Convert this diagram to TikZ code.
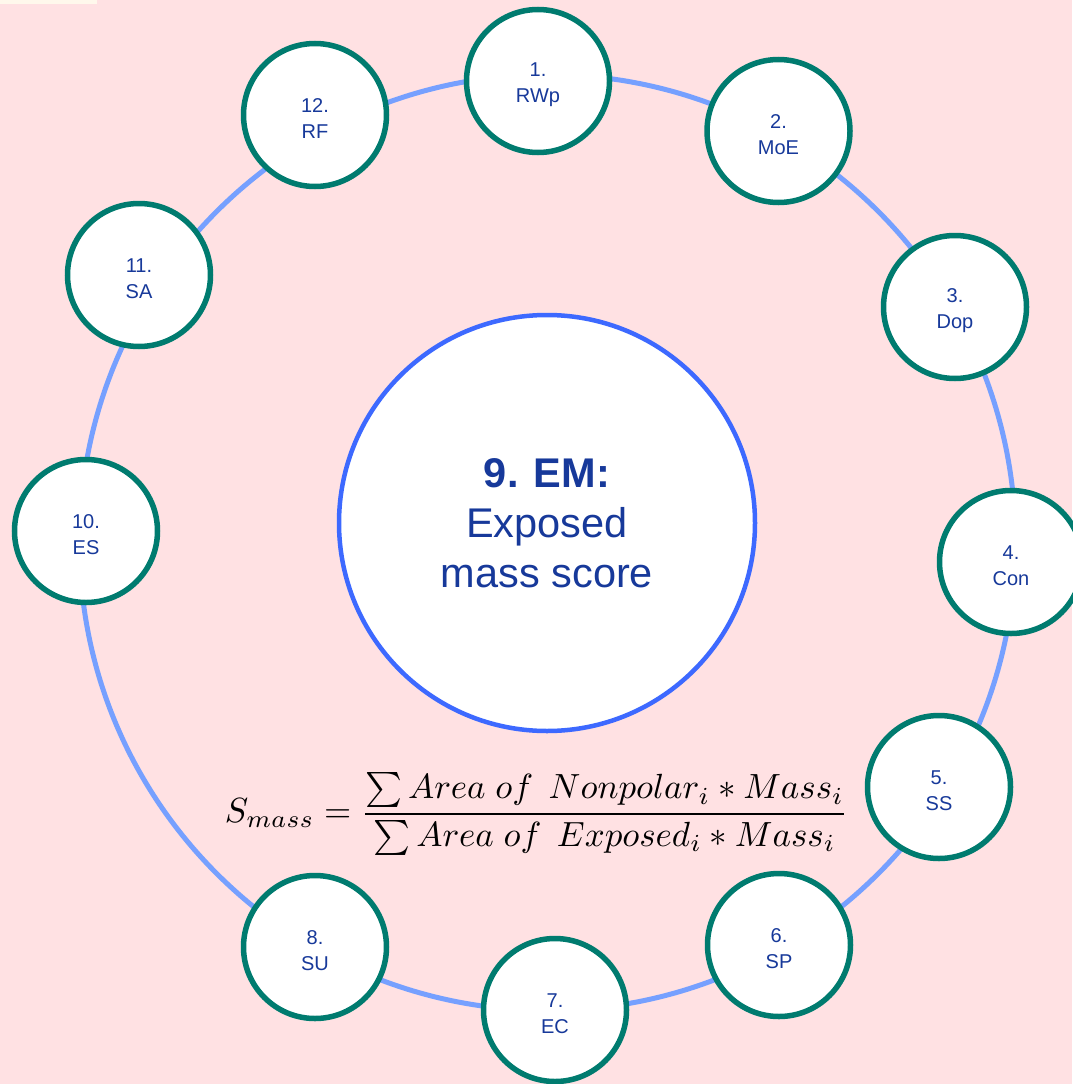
\documentclass[tikz,border=0pt]{standalone}
\usepackage{graphicx}
\usepackage{fontspec}
\setmainfont{Liberation Sans}
\begin{document}
\definecolor{bgpink}{HTML}{FFE1E3}
\definecolor{cream}{HTML}{FFF8EC}
\definecolor{nodeteal}{HTML}{007B6F}
\definecolor{ringblue}{HTML}{76A0FF}
\definecolor{hubblue}{HTML}{3D69FF}
\definecolor{labelblue}{HTML}{17399A}
% a criterion: teal circle with its two-line caption
\newcommand\critnode[3]{%
  \node[satnode] (#1) at (#2) {};
  \node[satlabel] (#1-cap) at ([yshift=-4pt]#1.center) {#3};}
\begin{tikzpicture}[x=1pt,y=-1pt,
  ringline/.style={draw=ringblue,line width=5pt},
  satnode/.style={circle,draw=nodeteal,line width=5.5pt,fill=white,
    minimum size=143pt,inner sep=0pt},
  satlabel/.style={inner sep=0pt,align=center,text=labelblue,
    font=\fontsize{20}{26}\selectfont},
  hubnode/.style={circle,draw=hubblue,line width=4.5pt,fill=white,
    minimum size=416pt,inner sep=0pt,align=center,text=labelblue,
    font=\fontsize{41.5}{50}\selectfont}]
% canvas
\fill[bgpink] (0,0) rectangle (1072,1084);
\fill[cream] (0,0) rectangle (97,4);
\useasboundingbox (0,0) rectangle (1072,1084);
% ring linking the twelve criteria
\coordinate (ringc) at (547.5,542.5);
\draw[ringline] (ringc) circle[radius=468pt];
% criteria around the ring
\critnode{n1}{538,81}{1.\\RWp}
\critnode{n2}{778.5,131}{2.\\MoE}
\critnode{n3}{955,307}{3.\\Dop}
\critnode{n4}{1011,562}{4.\\Con}
\critnode{n5}{939,787}{5.\\SS}
\critnode{n6}{779,945}{6.\\SP}
\critnode{n7}{555,1010}{7.\\EC}
\critnode{n8}{315,947}{8.\\SU}
\critnode{n10}{86,531}{10.\\ES}
\critnode{n11}{139,275}{11.\\SA}
\critnode{n12}{315,115}{12.\\RF}
% highlighted criterion
\node[hubnode] (n9) at (547,523) {\textbf{9. EM:}\\Exposed\\mass score};
% score definition
\node[inner sep=0pt] (formula) at (536.5,814) {\resizebox{623pt}{!}{%
  $\displaystyle S_{mass} = \frac{\sum Area\ of\ \,Nonpolar_i \ast Mass_i}{\sum Area\ of\ \,Exposed_i \ast Mass_i}$}};
\end{tikzpicture}
\end{document}
